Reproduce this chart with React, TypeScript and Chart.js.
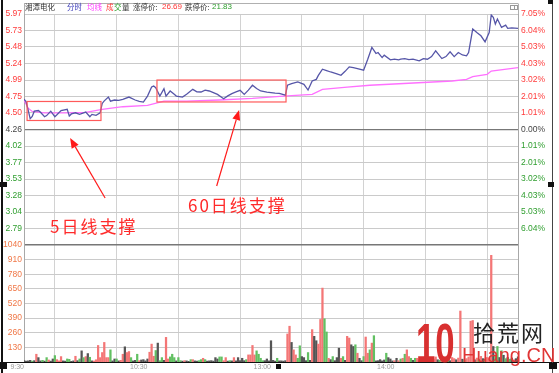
import React, { useEffect, useRef } from 'react';
import { Chart, registerables } from 'chart.js';
Chart.register(...registerables);

// ---------- data ----------
// price line: minute index (0 = 9:30, 240 = 15:00) and % change vs previous close
const priceMinutes = [0,1,2,3,4,5,7,8,10,11,13,15,16,18,21,22,23,25,27,30,32,33,35,37,38,39,41,42,44,46,48,51,54,56,58,60,62,63,64,66,68,69,71,73,74,77,79,82,84,86,88,90,92,94,97,99,101,103,105,107,109,111,113,115,118,120,122,124,127,128,130,133,136,138,140,142,143,145,147,149,152,154,156,158,160,162,165,167,169,171,172,174,175,178,180,182,183,185,187,189,192,194,196,198,200,203,205,207,209,211,213,215,216,218,220,222,224,226,227,228,229,230,232,234,235,237,240];
const pricePct = [1.85,1.70,1.20,0.66,0.80,1.12,1.16,1.05,0.78,0.85,1.12,0.78,0.90,1.16,1.23,0.82,0.95,1.02,0.92,1.06,0.78,0.92,0.86,1.02,1.59,1.75,1.98,1.73,1.80,1.78,1.84,1.98,1.80,1.72,1.67,2.04,2.60,2.65,2.55,2.04,2.49,2.04,2.35,2.15,2.04,1.98,2.15,2.45,2.30,2.29,2.40,2.35,2.25,2.14,1.88,2.05,2.19,2.30,2.39,2.14,2.40,2.70,2.50,2.35,2.28,2.25,2.22,2.21,2.10,2.70,2.80,2.90,2.76,2.41,2.96,3.06,3.30,3.68,3.60,3.51,3.40,3.31,3.55,3.82,3.78,3.72,3.62,4.29,5.01,4.64,4.70,4.39,4.54,4.25,4.30,4.25,4.29,4.33,4.27,4.29,4.19,4.33,4.29,4.45,4.80,4.33,4.45,4.74,4.45,4.70,4.55,4.50,4.70,6.13,5.92,5.72,5.35,5.92,6.99,6.85,6.44,6.74,6.23,6.37,6.17,6.20,6.17];
// average price line
const avgMinutes = [0,2,4,10,20,30,38,48,60,68,79,95,111,126,140,145,157,168,208,215,218,225,227,240];
const avgPct = [1.80,1.30,1.10,1.02,1.02,1.04,1.23,1.39,1.47,1.73,1.73,1.80,1.90,2.04,2.14,2.45,2.59,2.70,2.96,3.06,3.23,3.37,3.57,3.78];
// volume per minute (0..240)
const volumes = [
  12,8,10,15,8,12,69,39,10,15,
  8,39,18,8,27,57,21,10,48,10,
  8,27,24,6,10,51,12,27,99,39,
  48,75,42,10,9,20,147,39,84,174,
  39,39,108,10,27,27,10,15,69,135,
  84,93,39,10,15,69,12,18,21,10,
  27,87,159,51,102,168,12,39,15,219,
  27,45,69,39,10,39,12,8,12,10,
  6,21,21,10,8,12,21,33,21,8,
  10,12,8,39,27,45,45,12,39,8,
  12,10,39,10,39,12,33,12,21,63,
  63,147,63,99,69,33,12,12,27,10,
  189,15,8,33,10,10,8,12,249,318,
  174,108,63,33,144,48,39,12,84,15,
  288,228,189,159,378,657,384,267,33,21,
  48,12,39,123,33,48,15,228,213,153,
  138,153,78,33,12,48,222,78,108,168,
  234,10,12,21,10,18,78,39,27,10,
  12,33,12,27,33,69,108,48,33,15,
  33,33,20,25,12,30,40,15,10,25,
  45,20,15,30,35,15,20,12,40,30,
  20,35,453,25,15,30,45,363,369,20,
  35,25,50,30,20,40,30,948,138,60,
  138,40,100,60,30,40,25,35,20,30,45
];
// bar colour per minute: r = up, g = down, k = flat
const volColorCodes = [
  'kkkkgkrkkg','kgrkkgrrrk','kggkkrkgkg','rkgkrrrrrr','rrgkkgkrrk','rrgkkgrkkk',
  'krrrgkggkr','rgggkggkrk','kgrkkggrgk','kkkkkggrrk','gkrkkkkkgr','rrrggggkkk',
  'kkkgkkkkrr','krrggkkkgk','rkkrrrggrk','gkkkrgkrrk','kgrkkgrrgr','gkkkkkgkkk',
  'rkrgrgrrgk','grrrkrrgkr','rkgrrkgkrr','krrkgrrrrk','rgrkgrrrkg','gkgkgkgkrkk'
].join('');

const leftPriceLabels = ['5.97','5.73','5.48','5.24','4.99','4.75','4.50','4.26','4.02','3.77','3.53','3.28','3.04','2.79'];
const rightPctLabels = ['7.05%','6.04%','5.03%','4.03%','3.02%','2.01%','1.01%','0.00%','1.01%','2.01%','3.02%','4.03%','5.03%','6.04%'];
const volTickValues = [1040,910,780,650,520,390,260,130];
const timeTickMinutes = [0,60,120,180];
const timeTickLabels = ['9:30','10:30','13:00','14:00'];

// annotations (minute, pct)
const boxes = [
  { m0: 1.5, m1: 37.4, p0: 0.55, p1: 1.71 },
  { m0: 64.6, m1: 127.3, p0: 1.68, p1: 3.02 },
];
const arrows = [
  { m0: 39.4, p0: -4.18, m1: 22.4, p1: -0.52 },
  { m0: 93.6, p0: -3.45, m1: 104.5, p1: 1.19 },
];

// ---------- layout constants ----------
const W = 559, H = 373;
const TOP = 14, SEP = 245, BOT = 362;
const PLOT_L = 24, PLOT_R = 518;
const PMAX = 7.05;
const STEP = PMAX / 7;
const PMIN = -PMAX - (BOT - SEP) / (SEP - TOP) * (2 * PMAX);
const VMAX = 1040 * (BOT - TOP) / (BOT - SEP);
const volToP = (v: number) => PMIN + (v / VMAX) * (PMAX - PMIN);

const RED = '#ff3b3b', GREEN = '#2f9e2f', ORANGE = '#f07848', DARK = '#444';
const FONT = "'Liberation Sans', Arial, sans-serif";
const CJK = "'Noto Sans CJK SC', sans-serif";

type TickMeta = { value: number; label: string; color: string; grid: string; gw: number };
const leftTicks: TickMeta[] = [];
for (let k = 7; k >= -6; k--) {
  leftTicks.push({
    value: k * STEP,
    label: leftPriceLabels[7 - k],
    color: k > 0 ? RED : k < 0 ? GREEN : DARK,
    grid: k === 0 ? '#777' : '#cacaca',
    gw: k === 0 ? 1.3 : 1,
  });
}
volTickValues.forEach((v, i) => {
  leftTicks.push({
    value: volToP(v),
    label: String(v),
    color: ORANGE,
    grid: i === 0 ? '#777' : '#cacaca',
    gw: i === 0 ? 1.5 : 1,
  });
});
leftTicks.sort((a, b) => a.value - b.value);

const rightTicks: TickMeta[] = [];
for (let k = -6; k <= 7; k++) {
  rightTicks.push({
    value: k * STEP,
    label: rightPctLabels[7 - k],
    color: k > 0 ? RED : k < 0 ? GREEN : DARK,
    grid: 'transparent',
    gw: 0,
  });
}

const colorFor = (c: string) => (c === 'r' ? '#f47676' : c === 'g' ? '#62c062' : '#555555');

const overlayPlugin = {
  id: 'overlayPlugin',
  afterDatasetsDraw(chart: any) {
    const { ctx, scales } = chart;
    const xs = scales.x, ys = scales.yL;
    ctx.save();
    ctx.strokeStyle = '#ff5a5a';
    ctx.lineWidth = 1.2;
    boxes.forEach((b) => {
      const x0 = xs.getPixelForValue(b.m0), x1 = xs.getPixelForValue(b.m1);
      const y0 = ys.getPixelForValue(b.p1), y1 = ys.getPixelForValue(b.p0);
      ctx.strokeRect(x0, y0, x1 - x0, y1 - y0);
    });
    ctx.strokeStyle = '#ff1a1a';
    ctx.fillStyle = '#ff1a1a';
    arrows.forEach((a) => {
      const tx = xs.getPixelForValue(a.m0), ty = ys.getPixelForValue(a.p0);
      const hx = xs.getPixelForValue(a.m1), hy = ys.getPixelForValue(a.p1);
      const ang = Math.atan2(hy - ty, hx - tx);
      const L = 10, Wd = 4;
      const c = Math.cos(ang), s = Math.sin(ang);
      const bx = hx - L * c, by = hy - L * s;
      ctx.lineWidth = 1.2;
      ctx.beginPath();
      ctx.moveTo(tx, ty);
      ctx.lineTo(bx, by);
      ctx.stroke();
      ctx.beginPath();
      ctx.moveTo(hx, hy);
      ctx.lineTo(bx - Wd * s, by + Wd * c);
      ctx.lineTo(bx + Wd * s, by - Wd * c);
      ctx.closePath();
      ctx.fill();
    });
    ctx.restore();
  },
  afterDraw(chart: any) {
    const { ctx } = chart;
    ctx.save();
    // title strip frame
    ctx.strokeStyle = '#b0b0b0';
    ctx.lineWidth = 1;
    ctx.beginPath();
    ctx.moveTo(PLOT_L, 3.5); ctx.lineTo(PLOT_R, 3.5);
    ctx.moveTo(PLOT_L + 0.5, 3.5); ctx.lineTo(PLOT_L + 0.5, TOP);
    ctx.moveTo(PLOT_R + 0.5, 3.5); ctx.lineTo(PLOT_R + 0.5, TOP);
    ctx.stroke();
    // tiny icon
    ctx.strokeStyle = '#999';
    ctx.strokeRect(510.5, 5.5, 7, 4);
    ctx.beginPath(); ctx.moveTo(514.5, 5.5); ctx.lineTo(514.5, 9.5); ctx.stroke();
    // outer dark borders
    ctx.fillStyle = '#111';
    ctx.fillRect(1, 0, 2, H);
    ctx.fillRect(0, BOT, W, 1);
    ctx.fillStyle = '#444';
    ctx.fillRect(552, 0, 1, H);
    ctx.fillStyle = '#111';
    ctx.fillRect(0, 182, 7, 5);
    ctx.fillRect(548, 182, 6, 5);
    ctx.fillRect(0, 363, 7, 6);
    ctx.fillRect(276, 364, 5, 5);
    ctx.fillRect(549, 363, 8, 6);
    ctx.fillRect(548, 0, 5, 4);
    ctx.restore();
  },
};

function ChartCanvas() {
  const ref = useRef<HTMLCanvasElement | null>(null);
  useEffect(() => {
    if (!ref.current) return;
    const chart = new Chart(ref.current, {
      type: 'line',
      data: {
        datasets: [
          {
            type: 'line',
            data: priceMinutes.map((m, i) => ({ x: m, y: pricePct[i] })),
            xAxisID: 'x',
            yAxisID: 'yL',
            borderColor: '#5656a8',
            borderWidth: 1.3,
            pointRadius: 0,
            tension: 0,
            fill: false,
          } as any,
          {
            type: 'line',
            data: avgMinutes.map((m, i) => ({ x: m, y: avgPct[i] })),
            xAxisID: 'x',
            yAxisID: 'yL',
            borderColor: '#ff70ff',
            borderWidth: 1.3,
            pointRadius: 0,
            tension: 0,
            fill: false,
          } as any,
          {
            type: 'bar',
            data: volumes.map((v, i) => ({ x: i, y: v })),
            xAxisID: 'x',
            yAxisID: 'yV',
            backgroundColor: volumes.map((_, i) => colorFor(volColorCodes[i])),
            borderWidth: 0,
            barThickness: 1.6,
          } as any,
        ],
      },
      options: {
        responsive: false,
        maintainAspectRatio: false,
        devicePixelRatio: 1,
        animation: false,
        layout: { padding: { top: TOP, left: 0, right: 0, bottom: 0 } },
        plugins: { legend: { display: false }, tooltip: { enabled: false }, title: { display: false } },
        scales: {
          x: {
            type: 'linear',
            min: 0,
            max: 240,
            offset: false,
            afterBuildTicks: (scale: any) => {
              const t = [];
              for (let m = 0; m <= 240; m += 30) t.push({ value: m });
              scale.ticks = t;
            },
            afterFit: (scale: any) => { scale.height = H - BOT; },
            ticks: {
              autoSkip: false,
              maxRotation: 0,
              minRotation: 0,
              align: 'end',
              padding: 1,
              color: '#9a9a9a',
              font: { size: 7, family: FONT },
              callback: (v: any) => {
                const idx = timeTickMinutes.indexOf(Number(v));
                return idx >= 0 ? timeTickLabels[idx] : '';
              },
            },
            grid: { color: '#d2d2d2', lineWidth: 1, drawTicks: false },
            border: { color: '#111', width: 1 },
          },
          yL: {
            type: 'linear',
            position: 'left',
            min: PMIN,
            max: PMAX,
            afterBuildTicks: (scale: any) => { scale.ticks = leftTicks.map((t) => ({ value: t.value })); },
            afterFit: (scale: any) => { scale.width = PLOT_L; },
            ticks: {
              autoSkip: false,
              padding: 2,
              font: { size: 8.5, family: FONT },
              color: (ctx: any) => (leftTicks[ctx.index] ? leftTicks[ctx.index].color : DARK),
              callback: (_v: any, i: number) => (leftTicks[i] ? leftTicks[i].label : ''),
            },
            grid: {
              drawTicks: false,
              color: (ctx: any) => (leftTicks[ctx.index] ? leftTicks[ctx.index].grid : '#cacaca'),
              lineWidth: (ctx: any) => (leftTicks[ctx.index] ? leftTicks[ctx.index].gw : 1),
            },
            border: { color: '#a8a8a8', width: 1 },
          },
          yR: {
            type: 'linear',
            position: 'right',
            min: PMIN,
            max: PMAX,
            afterBuildTicks: (scale: any) => { scale.ticks = rightTicks.map((t) => ({ value: t.value })); },
            afterFit: (scale: any) => { scale.width = W - PLOT_R; },
            ticks: {
              autoSkip: false,
              padding: 3,
              font: { size: 8.5, family: FONT },
              color: (ctx: any) => (rightTicks[ctx.index] ? rightTicks[ctx.index].color : DARK),
              callback: (_v: any, i: number) => (rightTicks[i] ? rightTicks[i].label : ''),
            },
            grid: { drawOnChartArea: false, drawTicks: false },
            border: { color: '#a8a8a8', width: 1 },
          },
          yV: {
            type: 'linear',
            display: false,
            min: 0,
            max: VMAX,
          },
        },
      } as any,
      plugins: [overlayPlugin],
    });
    return () => chart.destroy();
  }, []);
  return <canvas ref={ref} width={W} height={H} style={{ display: 'block', width: W, height: H }} />;
}

type Txt = { t: string; x: number; y: number; c: string; size: number; family?: string; weight?: number | string; ls?: number; extra?: React.CSSProperties };
const titleTexts: Txt[] = [
  { t: '湘潭电化', x: 25, y: 2.5, c: '#333', size: 7.5 },
  { t: '分时', x: 67, y: 2.5, c: '#3a3ab8', size: 7.5 },
  { t: '均线', x: 87, y: 2.5, c: '#ff3cff', size: 7.5 },
  { t: '成', x: 106, y: 2.5, c: '#ff3333', size: 7.5 },
  { t: '交', x: 114, y: 2.5, c: '#2f9e2f', size: 7.5 },
  { t: '量', x: 122, y: 2.5, c: '#333', size: 7.5 },
  { t: '涨停价:', x: 133, y: 2.5, c: '#333', size: 7.5 },
  { t: '26.69', x: 162, y: 2.5, c: '#ff3333', size: 8, family: FONT },
  { t: '跌停价:', x: 185, y: 2.5, c: '#333', size: 7.5 },
  { t: '21.83', x: 212, y: 2.5, c: '#2f9e2f', size: 8, family: FONT },
];
const noteTexts: Txt[] = [
  { t: '5日线支撑', x: 50, y: 217, c: '#ff2a2a', size: 17, ls: 2 },
  { t: '60日线支撑', x: 188, y: 196, c: '#ff2a2a', size: 17, ls: 2 },
];
const logoTexts: Txt[] = [
  { t: '10', x: 416, y: 314.7, c: '#d83030', size: 56, family: FONT, weight: 'bold', extra: { transform: 'scaleX(0.62)', transformOrigin: 'left top' } },
  { t: '拾荒网', x: 473, y: 320, c: '#222', size: 22, ls: 2 },
  { t: 'Huang.CN', x: 462, y: 344.5, c: '#e03535', size: 20, family: FONT },
];

function TextLayer({ items }: { items: Txt[] }) {
  return (
    <>
      {items.map((it, i) => (
        <span
          key={i}
          style={{
            position: 'absolute',
            left: it.x,
            top: it.y,
            fontSize: it.size,
            lineHeight: 1,
            color: it.c,
            whiteSpace: 'nowrap',
            fontFamily: it.family || CJK,
            fontWeight: it.weight || 'normal',
            letterSpacing: it.ls ? it.ls : 0,
            pointerEvents: 'none',
            ...(it.extra || {}),
          }}
        >
          {it.t}
        </span>
      ))}
    </>
  );
}

export default function App() {
  return (
    <div style={{ position: 'absolute', left: 0, top: 0, width: W, height: H, background: '#fff', overflow: 'hidden' }}>
      <ChartCanvas />
      <TextLayer items={titleTexts} />
      <TextLayer items={noteTexts} />
      <TextLayer items={logoTexts} />
    </div>
  );
}
